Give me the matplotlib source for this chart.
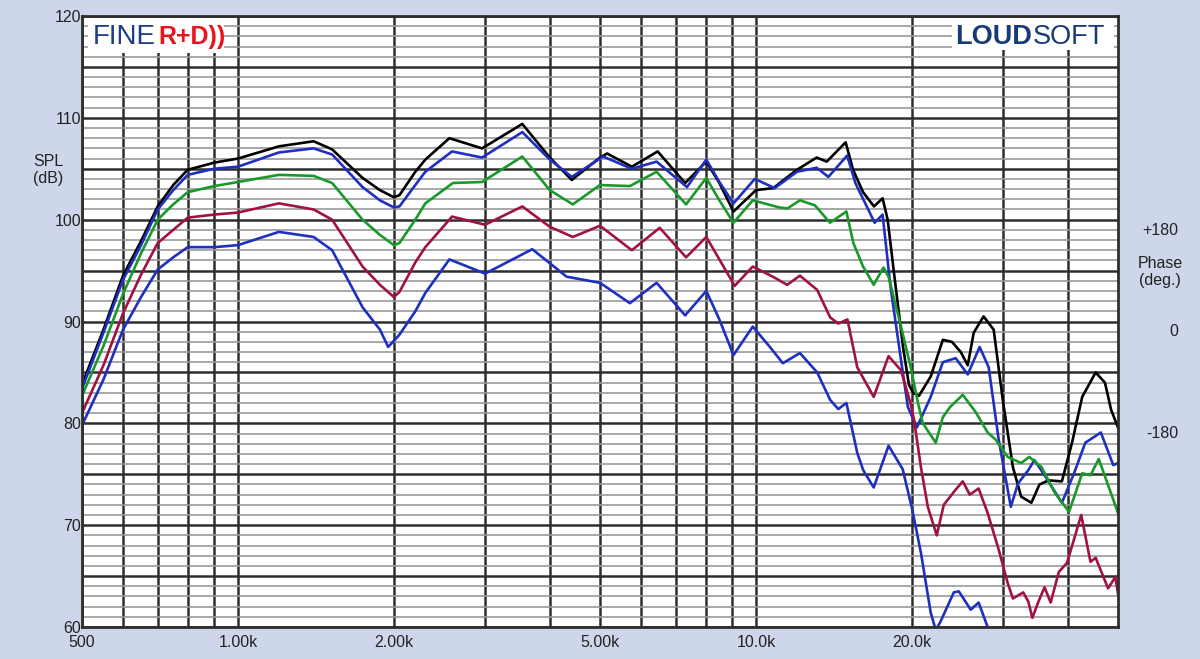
import matplotlib
matplotlib.use('Agg')
import matplotlib.pyplot as plt
from matplotlib.patches import Rectangle
from matplotlib.ticker import NullLocator, FixedLocator

plt.rcParams['font.family'] = ['Liberation Sans', 'DejaVu Sans']

# --- data (Hz, dB SPL) ---
black_f = [500, 550, 600, 650, 700, 750, 800, 900, 1000, 1200, 1400, 1520, 1740, 1880, 2000, 2050,
           2200, 2300, 2560, 2960, 3540, 4000, 4410, 5000, 5160, 5760, 6460, 7300, 8020, 8500,
           9050, 10000, 10800, 12000, 13100, 13700, 14900, 15400, 16100, 16900, 17560, 17960,
           18440, 19230, 19740, 20100, 20640, 21750, 22950, 23900, 24860, 25640, 26330, 27510,
           28770, 29960, 31340, 32510, 34020, 35270, 36730, 38960, 40760, 42650, 45270, 47180,
           48510, 50000]
black_db = [83.8, 89.2, 94.5, 97.9, 101.3, 103.4, 104.9, 105.6, 106.0, 107.2, 107.7, 106.9, 104.1,
            102.9, 102.2, 102.4, 104.7, 105.9, 108.0, 107.0, 109.4, 106.1, 103.9, 106.1, 106.5,
            105.2, 106.7, 103.6, 105.7, 103.6, 100.8, 102.9, 103.1, 104.9, 106.1, 105.7, 107.6,
            104.9, 102.7, 101.3, 102.1, 100.0, 95.1, 87.5, 83.8, 83.0, 82.7, 84.6, 88.2, 88.0,
            87.0, 85.7, 88.9, 90.5, 89.2, 82.3, 75.7, 72.8, 72.2, 74.0, 74.4, 74.3, 78.1, 82.6,
            85.0, 84.0, 81.3, 79.6]

blue_f = [500, 550, 600, 650, 700, 750, 800, 900, 1000, 1200, 1400, 1520, 1740, 1880, 2000, 2050,
          2200, 2300, 2590, 2960, 3540, 4000, 4410, 5070, 5760, 6430, 7360, 8020, 8500, 9050,
          9950, 10870, 12000, 13100, 13800, 15000, 15560, 16400, 16950, 17560, 18190, 19060,
          19650, 20450, 21750, 22950, 24300, 25640, 27030, 28140, 29420, 31050, 32060, 33560,
          34480, 36070, 38960, 41130, 43240, 46330, 48960, 50000]
blue_db = [83.4, 88.9, 94.1, 97.5, 101.0, 102.9, 104.4, 105.0, 105.2, 106.6, 107.0, 106.4, 103.2,
           101.9, 101.2, 101.3, 103.4, 104.7, 106.7, 106.1, 108.6, 105.9, 104.2, 106.2, 105.0,
           105.7, 103.2, 105.9, 103.7, 101.6, 104.0, 103.1, 104.7, 105.1, 104.2, 106.3, 103.6,
           101.2, 99.7, 100.5, 93.4, 86.2, 81.6, 79.6, 82.6, 86.0, 86.4, 84.8, 87.5, 85.5, 78.4,
           71.8, 74.1, 75.4, 76.4, 74.9, 72.2, 75.1, 78.1, 79.1, 75.9, 76.1]

green_f = [500, 550, 600, 650, 700, 750, 800, 900, 1000, 1200, 1400, 1520, 1740, 1880, 2000, 2050,
           2200, 2300, 2600, 2960, 3540, 4000, 4430, 5000, 5710, 6430, 7330, 8020, 8500, 9050,
           9860, 11100, 11500, 12160, 13000, 13900, 14950, 15420, 16100, 16880, 17630, 18030,
           19060, 19900, 20550, 21000, 22240, 22950, 23700, 25080, 26560, 28010, 29030, 30630,
           32510, 33710, 35590, 37740, 40220, 42650, 44240, 45900, 48960, 50000]
green_db = [82.7, 87.6, 92.7, 96.7, 100.0, 101.5, 102.7, 103.3, 103.7, 104.4, 104.3, 103.6, 100.0,
            98.5, 97.5, 97.7, 100.0, 101.6, 103.6, 103.7, 106.2, 102.9, 101.5, 103.4, 103.3,
            104.7, 101.5, 104.1, 101.9, 99.7, 101.9, 101.2, 101.1, 101.9, 101.4, 99.7, 100.8,
            97.7, 95.4, 93.6, 95.3, 94.4, 89.5, 85.5, 82.0, 80.0, 78.1, 80.6, 81.6, 82.8, 81.1,
            79.1, 78.4, 76.7, 76.1, 76.7, 75.7, 73.2, 71.3, 75.1, 74.9, 76.5, 72.5, 71.2]

red_f = [500, 550, 600, 650, 700, 750, 800, 900, 1000, 1200, 1400, 1520, 1740, 1880, 2000, 2050,
         2200, 2300, 2590, 3000, 3540, 4000, 4430, 5000, 5760, 6520, 7330, 8020, 8500, 9100, 9860,
         10780, 11490, 12160, 13130, 13910, 14420, 15020, 15690, 16880, 18030, 19060, 19920,
         20200, 20820, 21470, 22340, 23050, 24310, 25080, 25870, 26910, 28010, 29420, 30630,
         31340, 32810, 33560, 34170, 35110, 36070, 37070, 38430, 39860, 42460, 44240, 45270,
         47840, 49400, 50000]
red_db = [81.0, 85.7, 90.8, 94.6, 97.7, 99.0, 100.2, 100.5, 100.7, 101.6, 101.0, 100.0, 95.4, 93.6,
          92.4, 92.9, 95.8, 97.3, 100.3, 99.5, 101.3, 99.3, 98.3, 99.4, 97.0, 99.2, 96.3, 98.3,
          96.1, 93.5, 95.4, 94.4, 93.6, 94.5, 93.1, 90.4, 89.8, 90.2, 85.5, 82.6, 86.6, 85.2,
          81.8, 80.3, 75.7, 71.8, 69.0, 72.0, 73.5, 74.3, 73.0, 73.6, 71.2, 67.6, 64.3, 62.8,
          63.4, 62.5, 60.9, 62.5, 63.9, 62.4, 65.4, 66.3, 71.0, 66.4, 66.8, 63.8, 64.9, 63.3]

low_f = [500, 550, 600, 650, 700, 750, 800, 900, 1000, 1200, 1400, 1520, 1740, 1880, 1950, 2050,
         2200, 2300, 2560, 3000, 3700, 4310, 5000, 5710, 6430, 7300, 8020, 8500, 9050, 9860,
         10640, 11270, 12160, 13130, 13910, 14420, 14950, 15690, 16110, 16880, 18030, 19200,
         20000, 20820, 21750, 22240, 22700, 24100, 24640, 25980, 26910, 28010, 29000]
low_db = [79.8, 84.3, 89.2, 92.4, 95.1, 96.3, 97.3, 97.3, 97.5, 98.8, 98.3, 97.0, 91.4, 89.2, 87.5,
          88.7, 91.0, 92.8, 96.1, 94.7, 97.1, 94.4, 93.8, 91.8, 93.8, 90.6, 93.0, 90.2, 86.7,
          89.5, 87.5, 85.9, 86.9, 85.0, 82.3, 81.4, 82.0, 77.1, 75.4, 73.7, 77.8, 75.5, 71.7,
          67.3, 61.4, 59.7, 60.5, 63.4, 63.5, 61.7, 62.4, 60.0, 57.0]

x_grid = [500, 600, 700, 800, 900, 1000, 2000, 3000, 4000, 5000, 6000, 7000, 8000, 9000,
          10000, 20000, 30000, 40000]
x_labels = {500: '500', 1000: '1.00k', 2000: '2.00k', 5000: '5.00k', 10000: '10.0k', 20000: '20.0k'}

W, H = 1200, 659
bg = '#ced6eb'
fig = plt.figure(figsize=(W / 100, H / 100), dpi=100, facecolor=bg)
ax = fig.add_axes([82 / W, 1 - 627 / H, (1118 - 82) / W, (627 - 16) / H])
ax.set_facecolor('white')

ax.set_xscale('log')
ax.set_xlim(500, 50000)
ax.set_ylim(60, 120)

ax.xaxis.set_major_locator(FixedLocator(x_grid))
ax.xaxis.set_minor_locator(NullLocator())
ax.set_xticklabels([x_labels.get(f, '') for f in x_grid])
ax.set_yticks(range(60, 121, 5))
ax.set_yticklabels([str(v) if v % 10 == 0 else '' for v in range(60, 121, 5)])
ax.yaxis.set_minor_locator(FixedLocator(range(60, 121, 1)))

ax.grid(which='major', color='#2e2e2e', lw=1.8)
ax.grid(which='minor', axis='y', color='#9a9a9a', lw=1.2)
ax.set_axisbelow(True)
ax.tick_params(which='both', length=0)
ax.tick_params(axis='y', pad=0.5, labelsize=11.5, colors='#222222')
ax.tick_params(axis='x', pad=6, labelsize=11.5, colors='#222222')
for s in ax.spines.values():
    s.set_color('#2e2e2e')
    s.set_linewidth(2)

lw = 1.9
ax.plot(black_f, black_db, color='black', lw=lw, solid_joinstyle='round')
ax.plot(blue_f, blue_db, color='#1f2fbf', lw=lw, solid_joinstyle='round')
ax.plot(green_f, green_db, color='#18992a', lw=lw, solid_joinstyle='round')
ax.plot(red_f, red_db, color='#a2123e', lw=lw, solid_joinstyle='round')
ax.plot(low_f, low_db, color='#1f2fbf', lw=lw, solid_joinstyle='round')


def fx(x):
    return x / W


def fy(y):
    return 1 - y / H


# logo boxes
fig.add_artist(Rectangle((fx(88), fy(53)), (224 - 88) / W, 35 / H, transform=fig.transFigure,
                         facecolor='white', edgecolor='none', zorder=3))
fig.add_artist(Rectangle((fx(952), fy(50)), (1114 - 952) / W, 32 / H, transform=fig.transFigure,
                         facecolor='white', edgecolor='none', zorder=3))
fig.text(fx(156), fy(37), 'FINE', color='#1c3c84', fontsize=20, ha='right', va='center', zorder=4)
fig.text(fx(158), fy(37), 'R+D))', color='#e8141c', fontsize=18, fontweight='bold',
         ha='left', va='center', zorder=4)
fig.text(fx(1032), fy(37), 'LOUD', color='#183a78', fontsize=19.5, fontweight='bold',
         ha='right', va='center', zorder=4)
fig.text(fx(1033), fy(37), 'SOFT', color='#183a78', fontsize=19.5, ha='left', va='center', zorder=4)

# axis annotations
fig.text(fx(48), fy(170), 'SPL\n(dB)', fontsize=11.5, ha='center', va='center',
         color='#222222', linespacing=1.1)
fig.text(fx(1178), fy(230), '+180', fontsize=11.5, ha='right', va='center', color='#222222')
fig.text(fx(1160), fy(272), 'Phase\n(deg.)', fontsize=11.5, ha='center', va='center',
         color='#222222', linespacing=1.1)
fig.text(fx(1178), fy(332), '0', fontsize=11.5, ha='right', va='center', color='#222222')
fig.text(fx(1178), fy(434), '-180', fontsize=11.5, ha='right', va='center', color='#222222')

fig.savefig('out.png', dpi=100, facecolor=bg)
